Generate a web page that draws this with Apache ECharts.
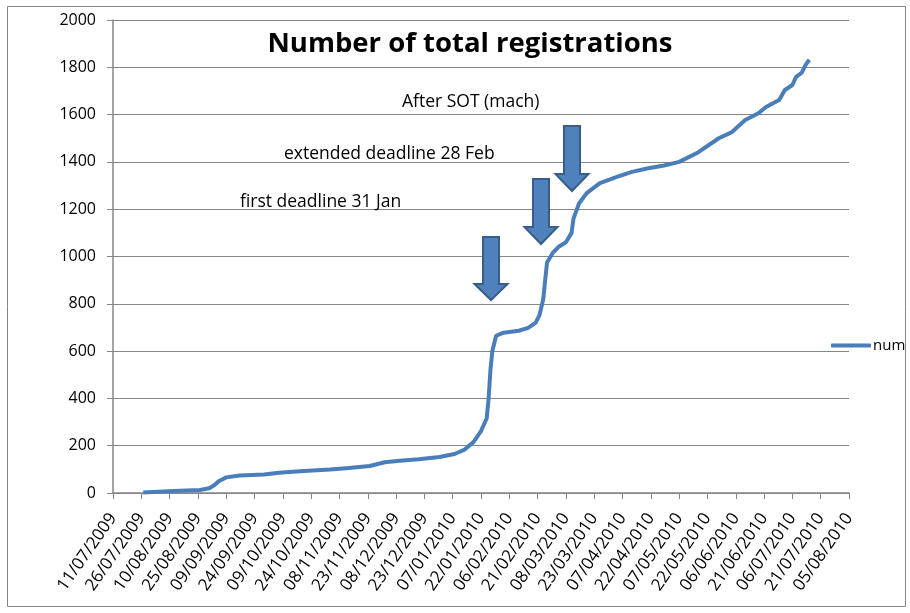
<!DOCTYPE html>
<html>
<head>
<meta charset="utf-8">
<script src="https://cdn.jsdelivr.net/npm/echarts@6/dist/echarts.min.js"></script>
<style>html,body{margin:0;padding:0;background:#fff;}#c{width:910px;height:613px;}</style>
</head>
<body>
<div id="c"></div>
<script>
// ---- data ----
const startDate = '2009-07-11';
const endDate = '2010-08-05';
const tickStepDays = 15;
const yTicks = [0, 200, 400, 600, 800, 1000, 1200, 1400, 1600, 1800, 2000];
const dates = [
  '2009-07-27','2009-08-12','2009-08-26','2009-08-31','2009-09-03','2009-09-05','2009-09-09',
  '2009-09-16','2009-09-29','2009-10-07','2009-10-18','2009-11-03','2009-11-13','2009-11-24',
  '2009-12-02','2009-12-10','2009-12-20','2009-12-31','2010-01-08','2010-01-13','2010-01-18',
  '2010-01-22','2010-01-25','2010-01-26','2010-01-27','2010-01-28','2010-01-30','2010-02-03',
  '2010-02-11','2010-02-16','2010-02-20','2010-02-22','2010-02-24','2010-02-25','2010-02-26',
  '2010-03-01','2010-03-04','2010-03-08','2010-03-11','2010-03-12','2010-03-15','2010-03-19',
  '2010-03-26','2010-04-04','2010-04-12','2010-04-20','2010-04-29','2010-05-07','2010-05-17',
  '2010-05-28','2010-06-04','2010-06-11','2010-06-18','2010-06-22','2010-06-29','2010-07-02',
  '2010-07-06','2010-07-08','2010-07-11','2010-07-13','2010-07-15'
];
const num = [
  2, 8, 13, 20, 35, 50, 66,
  74, 78, 86, 92, 99, 106, 114,
  130, 136, 143, 152, 165, 182, 215,
  262, 315, 395, 520, 600, 665, 678,
  686, 698, 720, 752, 820, 900, 975,
  1015, 1040, 1060, 1100, 1160, 1225, 1268,
  1310, 1337, 1358, 1372, 1385, 1400, 1440,
  1500, 1526, 1577, 1606, 1632, 1662, 1704,
  1725, 1760, 1777, 1810, 1832
];
const seriesName = 'num';
const titleText = 'Number of total registrations';
const notes = ['After SOT (mach)', 'extended deadline 28 Feb', 'first deadline 31 Jan'];

// ---- helpers ----
const DAY = 86400000;
const t0 = Date.parse(startDate + 'T00:00:00Z');
const dayOf = s => Math.round((Date.parse(s + 'T00:00:00Z') - t0) / DAY);
const pad = n => (n < 10 ? '0' : '') + n;
const fmt = d => { const dt = new Date(t0 + d * DAY); return pad(dt.getUTCDate()) + '/' + pad(dt.getUTCMonth() + 1) + '/' + dt.getUTCFullYear(); };
const seriesData = dates.map((d, i) => [dayOf(d), num[i]]);

const FONT = 'Open Sans';
const GRAY = '#868686';
const NOTE_FONT = '17.5px "Open Sans"';
const chart = echarts.init(document.getElementById('c'));

function arrow(cx, top, headY, tip) {
  return {
    type: 'polygon',
    shape: { points: [[cx - 8, top], [cx + 8, top], [cx + 8, headY], [cx + 16.5, headY], [cx, tip], [cx - 16.5, headY], [cx - 8, headY]] },
    style: { fill: '#4f81bd', stroke: '#385d8a', lineWidth: 2 },
    z: 100
  };
}

chart.setOption({
  animation: false,
  backgroundColor: '#fff',
  title: {
    text: titleText, left: 465, top: 25, textAlign: 'center',
    textStyle: { fontFamily: FONT, fontWeight: 'bold', fontSize: 27.5, color: '#000' }
  },
  legend: {
    left: 826, top: 333, icon: 'roundRect', itemWidth: 40, itemHeight: 4, itemGap: 2,
    textStyle: { fontFamily: FONT, fontSize: 15, color: '#000', padding: [0, 0, 0, -3] },
    data: [seriesName]
  },
  grid: { left: 113, right: 61, top: 20, bottom: 120, containLabel: false, outerBoundsMode: 'none' },
  xAxis: {
    type: 'value', min: 0, max: dayOf(endDate), interval: tickStepDays,
    axisLine: { show: true, lineStyle: { color: GRAY, width: 1.5 } },
    axisTick: { show: true, length: 6, lineStyle: { color: GRAY } },
    splitLine: { show: false },
    axisLabel: { rotate: 55, margin: 22, fontFamily: FONT, fontSize: 17, color: '#000', formatter: v => fmt(v), showMinLabel: true, showMaxLabel: true, hideOverlap: false }
  },
  yAxis: {
    type: 'value', min: yTicks[0], max: yTicks[yTicks.length - 1], interval: yTicks[1] - yTicks[0],
    axisLine: { show: true, lineStyle: { color: GRAY, width: 1.5 } },
    axisTick: { show: true, inside: false, length: 6, lineStyle: { color: GRAY } },
    splitLine: { show: true, lineStyle: { color: GRAY, width: 1 } },
    axisLabel: { margin: 17, fontFamily: FONT, fontSize: 16, color: '#000', formatter: v => String(v) }
  },
  series: [{
    name: seriesName, type: 'line', data: seriesData, showSymbol: false, smooth: false,
    lineStyle: { color: '#4a7ebb', width: 4 }, itemStyle: { color: '#4a7ebb' }
  }],
  graphic: [
    { type: 'rect', shape: { x: 7.5, y: 6.5, width: 898, height: 600 }, style: { fill: 'none', stroke: GRAY, lineWidth: 1 }, silent: true },
    { type: 'text', left: 402, top: 93, style: { text: notes[0], font: NOTE_FONT, fill: '#000' }, z: 100 },
    { type: 'text', left: 284, top: 145, style: { text: notes[1], font: NOTE_FONT, fill: '#000' }, z: 100 },
    { type: 'text', left: 240, top: 193, style: { text: notes[2], font: NOTE_FONT, fill: '#000' }, z: 100 },
    arrow(491, 237, 284, 300),
    arrow(541, 179, 227, 244),
    arrow(572, 126, 174, 191)
  ]
});
</script>
</body>
</html>
